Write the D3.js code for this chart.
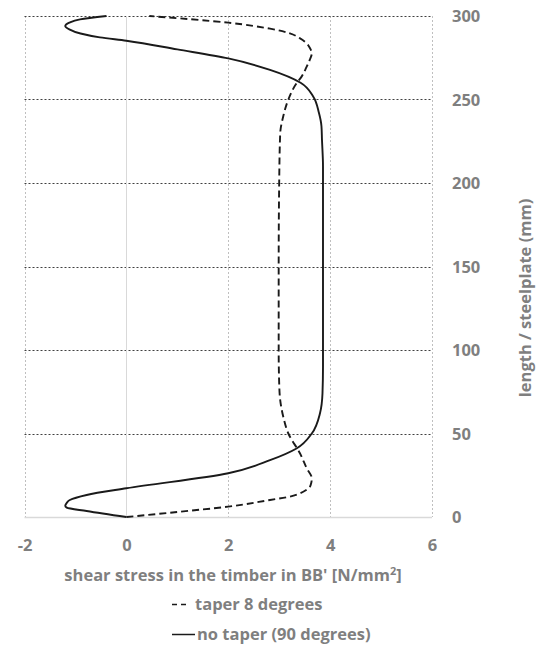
<!DOCTYPE html>
<html><head><meta charset="utf-8">
<script src="https://cdn.jsdelivr.net/npm/d3@7"></script>
<style>
html,body{margin:0;padding:0;background:#fff;}
svg{display:block;}
text{font-family:"Open Sans",sans-serif;font-weight:bold;fill:#7f7f7f;}
</style></head>
<body>
<svg id="chart" width="542" height="651"></svg>
<script>
// x tick labels (shear stress) and y tick labels (length)
const xTicks = [-2, 0, 2, 4, 6];
const yTicks = [0, 50, 100, 150, 200, 250, 300];

// Series: no taper (90 degrees) - solid
const noTaperY = [0, 3.6, 5.6, 6.8, 8.5, 10.2, 13.2, 17.2, 26.2, 34, 41, 50, 62, 74, 90, 150, 210, 226, 234, 242, 251.7, 260, 267.7, 274.6, 280, 285.2, 287.2, 289.5, 292, 294, 296, 298, 300];
const noTaperX = [0, -0.78, -1.17, -1.2, -1.17, -1.11, -0.78, 0, 2, 2.82, 3.34, 3.64, 3.80, 3.85, 3.86, 3.86, 3.86, 3.84, 3.83, 3.78, 3.67, 3.42, 2.82, 2, 1.0, 0, -0.52, -0.9, -1.12, -1.2, -1.12, -0.91, -0.39];

// Series: taper 8 degrees - dashed
const taperY = [0, 3, 6.2, 10.2, 12.2, 14.2, 16.2, 18, 20.5, 23.2, 29.2, 38, 50, 60, 70, 80, 100, 150, 200, 229.7, 240, 250, 259.7, 263.7, 269.7, 273.7, 277.7, 281, 283.6, 286.6, 289.6, 292.4, 296, 300];
const taperX = [0, 1.0, 2.0, 2.82, 3.21, 3.41, 3.53, 3.6, 3.63, 3.64, 3.54, 3.41, 3.18, 3.08, 3.02, 3.0, 2.99, 2.99, 3.0, 3.02, 3.08, 3.18, 3.34, 3.44, 3.54, 3.6, 3.64, 3.6, 3.54, 3.41, 3.21, 2.82, 2.0, 0.45];

const xTitle = "shear stress in the timber in BB' [N/mm";
const yTitle = "length / steelplate (mm)";
const legendLabels = ["taper 8 degrees", "no taper (90 degrees)"];

const FS = "16.5px";
const svg = d3.select("#chart");
const x = d3.scaleLinear().domain([-2, 6]).range([24.5, 432]);
const y = d3.scaleLinear().domain([0, 300]).range([517, 16]);

// vertical gridlines (light dotted)
svg.append("g").selectAll("line").data(xTicks.filter(d => d !== 0)).join("line")
  .attr("x1", d => Math.round(x(d)) + 0.5).attr("x2", d => Math.round(x(d)) + 0.5)
  .attr("y1", y(300)).attr("y2", y(0))
  .attr("stroke", "#bfbfbf").attr("stroke-width", 1).attr("stroke-dasharray", "2,2");

// horizontal gridlines (dark dotted)
svg.append("g").selectAll("line").data(yTicks.filter(d => d !== 0)).join("line")
  .attr("x1", x(-2)).attr("x2", x(6))
  .attr("y1", d => Math.round(y(d)) + 0.5).attr("y2", d => Math.round(y(d)) + 0.5)
  .attr("stroke", "#404040").attr("stroke-width", 1).attr("stroke-dasharray", "2,2");

// axis lines: x=0 vertical and y=0 horizontal (solid light grey)
svg.append("line").attr("x1", Math.round(x(0)) + 0.5).attr("x2", Math.round(x(0)) + 0.5)
  .attr("y1", y(300)).attr("y2", y(0)).attr("stroke", "#d9d9d9").attr("stroke-width", 1);
svg.append("line").attr("x1", x(-2)).attr("x2", x(6))
  .attr("y1", Math.round(y(0)) + 0.5).attr("y2", Math.round(y(0)) + 0.5)
  .attr("stroke", "#d9d9d9").attr("stroke-width", 1.3);

// x tick labels
const xAxis = d3.axisBottom(x).tickValues(xTicks).tickSize(0).tickPadding(0);
const gx = svg.append("g").attr("transform", `translate(0,551)`).call(xAxis);
gx.select(".domain").remove();
gx.selectAll("text").attr("dy", 0).attr("y", 0).attr("fill", "#7f7f7f").style("font-size", FS)
  .style("font-family", "'Open Sans', sans-serif").style("font-weight", "bold").text(d => d < 0 ? "-" + Math.abs(d) : d);

// y tick labels on right
const yAxis = d3.axisRight(y).tickValues(yTicks).tickSize(0).tickPadding(0);
const gy = svg.append("g").attr("transform", `translate(452,0)`).call(yAxis);
gy.select(".domain").remove();
gy.selectAll("text").attr("fill", "#7f7f7f").style("font-size", FS)
  .style("font-family", "'Open Sans', sans-serif").style("font-weight", "bold").attr("dy", "0.36em");

// lines
const lineGen = d3.line().x(d => x(d[0])).y(d => y(d[1])).curve(d3.curveMonotoneY);
const taperPts = taperX.map((v, i) => [v, taperY[i]]);
const noTaperPts = noTaperX.map((v, i) => [v, noTaperY[i]]);
svg.append("path").attr("d", lineGen(taperPts)).attr("fill", "none")
  .attr("stroke", "#1a1a1a").attr("stroke-width", 1.9).attr("stroke-dasharray", "7,4");
svg.append("path").attr("d", lineGen(noTaperPts)).attr("fill", "none")
  .attr("stroke", "#1a1a1a").attr("stroke-width", 1.9);

// x title
const xt = svg.append("text").attr("x", 233).attr("y", 581).attr("text-anchor", "middle")
  .style("font-size", FS);
xt.append("tspan").text(xTitle);
xt.append("tspan").text("2").attr("dy", -6).style("font-size", "11px");
xt.append("tspan").text("]").attr("dy", 6);

// y title
svg.append("text").attr("transform", "translate(531,298) rotate(-90)")
  .attr("text-anchor", "middle").style("font-size", FS).text(yTitle);

// legend
const leg = svg.append("g");
leg.append("line").attr("x1", 172).attr("x2", 186).attr("y1", 604.5).attr("y2", 604.5)
  .attr("stroke", "#1a1a1a").attr("stroke-width", 1.5).attr("stroke-dasharray", "5,4");
leg.append("text").attr("x", 195).attr("y", 610).style("font-size", FS).text(legendLabels[0]);
leg.append("line").attr("x1", 172).attr("x2", 195).attr("y1", 634.5).attr("y2", 634.5)
  .attr("stroke", "#1a1a1a").attr("stroke-width", 1.5);
leg.append("text").attr("x", 197).attr("y", 640).style("font-size", FS).text(legendLabels[1]);
</script>
</body></html>
